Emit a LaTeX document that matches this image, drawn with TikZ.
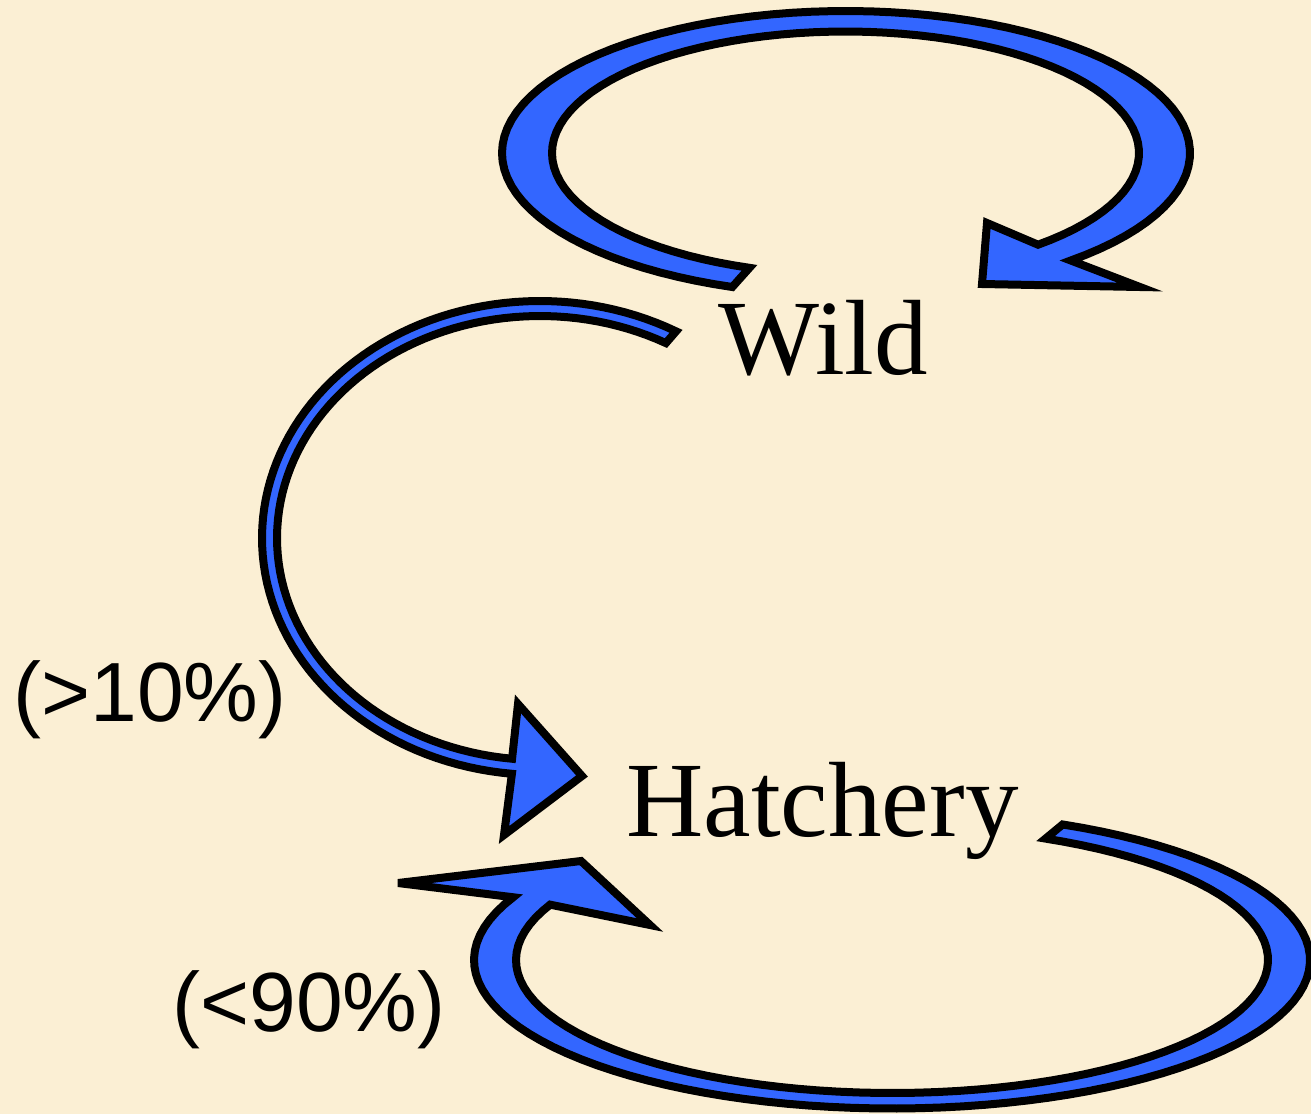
\documentclass[tikz,border=0pt]{standalone}
\usepackage{fontspec}
\newfontfamily\labelserif{Liberation Serif}
\newfontfamily\labelsans{Liberation Sans}
\definecolor{parchment}{RGB}{251,239,212}
\definecolor{arrowblue}{RGB}{51,102,255}
\tikzset{
  blockarrow/.style={fill=arrowblue, draw=black, line width=4pt, line join=miter, miter limit=6},
  bigword/.style={inner sep=0pt, anchor=base west, font=\labelserif\fontsize{53.5}{60}\selectfont},
  share/.style={inner sep=0pt, anchor=base west, font=\labelsans\fontsize{42}{48}\selectfont}
}
\begin{document}
\begin{tikzpicture}[x=0.5pt,y=-0.5pt]
  % page and background
  \useasboundingbox (0,0) rectangle (1311,1114);
  \fill[parchment] (0,0) rectangle (1311,1114);

  % labels
  \node[bigword] (wild) at (718,374) {Wild};
  \node[bigword] (hatch) at (626,836) {Hatchery};
  \node[share] (more) at (13,721) {(>10\%)};
  \node[share] (less) at (172,1031) {(<90\%)};

  % Wild -> Wild loop (clockwise over the top)
  \filldraw[blockarrow]
    plot[domain=109.3:409.2, samples=90] ({846+344*cos(\x)},{153+142*sin(\x)})
    -- (1140,287) -- (982,284) -- (987,223)
    -- plot[domain=409.0:109.1, samples=90] ({845.5+293.5*cos(\x)},{153+121.5*sin(\x)})
    -- cycle;

  % Wild -> Hatchery (thin arc on the left)
  \filldraw[blockarrow]
    plot[domain=-60.7:-264.2, samples=90] ({540+278*cos(\x)},{538+237*sin(\x)})
    -- (504,835) -- (582,776) -- (518,704)
    -- plot[domain=-263.9:-61.4, samples=90] ({540+263*cos(\x)},{538+222*sin(\x)})
    -- cycle;

  % Hatchery -> Hatchery loop (clockwise under the bottom)
  \filldraw[blockarrow]
    plot[domain=-65.9:205, samples=90] ({892+418*cos(\x)},{960+148.5*sin(\x)})
    -- (398,883) -- (581,861) -- (650,925)
    -- plot[domain=204.6:-65.9, samples=90] ({892+376*cos(\x)},{960+133*sin(\x)})
    -- cycle;
\end{tikzpicture}
\end{document}
